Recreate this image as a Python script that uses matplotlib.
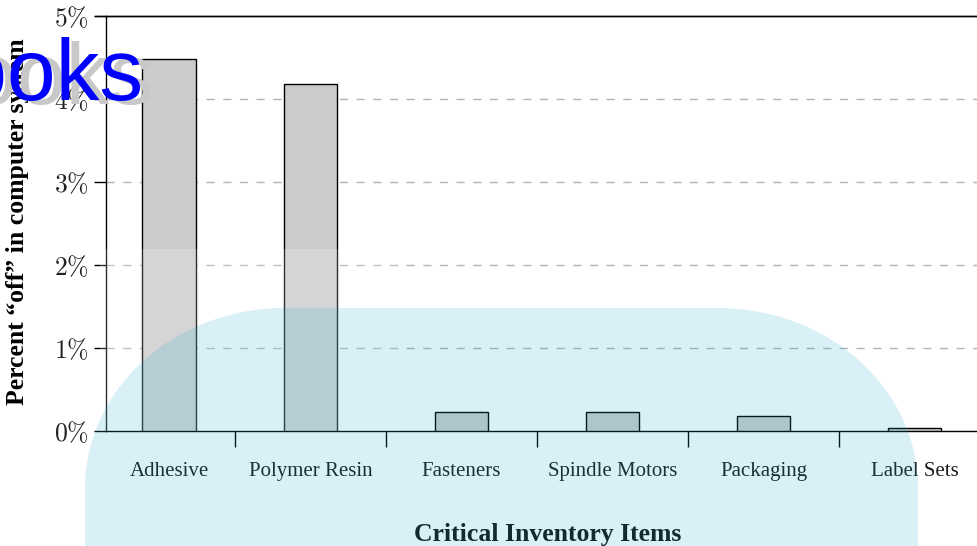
import numpy as np
import matplotlib.pyplot as plt
from matplotlib.path import Path
from matplotlib.patches import PathPatch, Rectangle
from matplotlib.transforms import IdentityTransform

plt.rcParams['mathtext.fontset'] = 'cm'

items = ["Adhesive", "Polymer Resin", "Fasteners", "Spindle Motors", "Packaging", "Label Sets"]
pct_off = [4.48, 4.18, 0.23, 0.23, 0.18, 0.04]
yticks = [0, 1, 2, 3, 4, 5]

W, H = 978, 546
fig = plt.figure(figsize=(W / 100, H / 100), dpi=100)
ax = fig.add_axes([106 / W, (H - 431) / H, 1 - 106 / W, (431 - 16) / H])

x = np.arange(len(items), dtype=float)
x[0] += 0.065   # first column sits a touch right of the even spacing
ax.bar(x, pct_off, width=0.355, color="#cccccc", edgecolor="black", linewidth=1, zorder=3)

ax.set_xlim(-0.354, 5.42)
ax.set_ylim(0, 5)

# boundaries between categories carry the tick marks, names sit in between
ax.set_xticks(np.arange(len(items) - 1) + 0.5)
ax.set_xticklabels([])
ax.set_xticks(x, minor=True)
ax.set_xticklabels(items, minor=True, family="Liberation Serif", fontsize=15, color="#1a1a1a")
ax.tick_params(axis="x", which="major", direction="out", length=11.5, width=1)
ax.tick_params(axis="x", which="minor", length=0, pad=22)

ax.set_yticks(yticks)
ax.set_yticklabels([r"$%d\%%$" % v for v in yticks], fontsize=18.5, color="#222222")
ax.tick_params(axis="y", direction="out", length=9, width=1, pad=3)

for v in yticks[1:-1]:
    ax.axhline(v, color="#b4b4b4", linestyle=(0, (6, 6)), linewidth=1, zorder=1)

ax.spines["right"].set_visible(False)
for s in ["left", "top", "bottom"]:
    ax.spines[s].set_linewidth(1)
# top rule runs out past the axis like the 5% tick
ax.plot([-0.43, 5.42], [5, 5], color="black", linewidth=1, clip_on=False, zorder=4)

ax.set_ylabel("Percent \u201coff\u201d in computer system", family="Liberation Serif",
              fontweight="bold", fontsize=18.5, va="center")
ax.yaxis.set_label_coords(-(106 - 18) / (W - 106), (431 - 222) / 415)
ax.set_xlabel("Critical Inventory Items", family="Liberation Serif", fontweight="bold",
              fontsize=18.5, color="#111111", va="center")
ax.xaxis.set_label_coords((548 - 106) / (W - 106), -(534 - 431) / 415)

# faint light band over the upper bars
fig.patches.append(Rectangle((100, H - 431), 300, 431 - 249, transform=IdentityTransform(),
                             facecolor="white", alpha=0.18, edgecolor="none", zorder=5))

# pale rounded panel along the bottom
def rounded_top(x0, x1, ytop, rx, ry, ybot):
    verts, codes = [(x0, ybot)], [Path.MOVETO]
    t = np.linspace(np.pi, np.pi / 2, 40)
    for a in t:
        verts.append((x0 + rx + rx * np.cos(a), ytop - ry + ry * np.sin(a)))
        codes.append(Path.LINETO)
    t = np.linspace(np.pi / 2, 0, 40)
    for a in t:
        verts.append((x1 - rx + rx * np.cos(a), ytop - ry + ry * np.sin(a)))
        codes.append(Path.LINETO)
    verts += [(x1, ybot), (x0, ybot)]
    codes += [Path.LINETO, Path.CLOSEPOLY]
    return Path(verts, codes)

panel = rounded_top(85, 918, H - 308, 200, 180, -10)
fig.patches.append(PathPatch(panel, transform=IdentityTransform(), facecolor=(31 / 255, 166 / 255, 202 / 255),
                             alpha=0.17, edgecolor="none", zorder=6))

fig.text(154, H - 104, "Books", transform=IdentityTransform(), ha="right", va="baseline",
         family="Liberation Sans", fontsize=63, color="#c8c8c8", zorder=7)
fig.text(144, H - 100, "Books", transform=IdentityTransform(), ha="right", va="baseline",
         family="Liberation Sans", fontsize=63, color="#0000ff", zorder=8)

fig.savefig("out.png", dpi=100)
